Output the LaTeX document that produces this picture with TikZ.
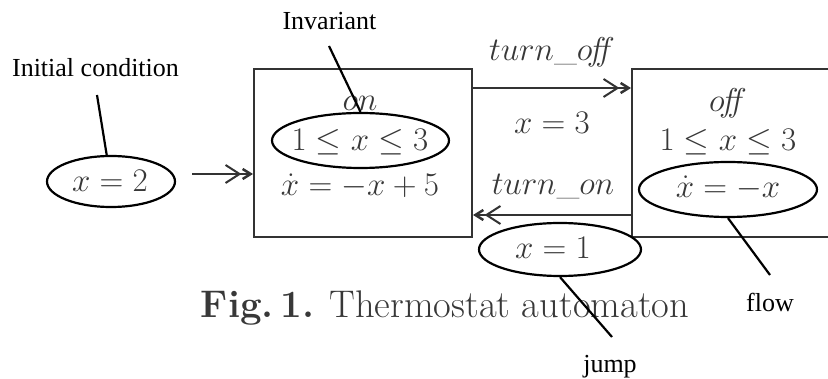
\RequirePackage{fix-cm}
\documentclass[tikz,border=0pt]{standalone}
\usepackage{fontspec}
\usetikzlibrary{shapes.geometric,arrows.meta}
\newfontfamily\timesfont{Liberation Serif}
\tikzset{
  scan/.style={text=black!78},
  mathtxt/.style={scan,font=\fontsize{33}{36}\selectfont,inner sep=0pt},
  statebox/.style={draw=black!80,line width=2pt,minimum width=218pt,minimum height=168pt,inner sep=0pt},
  trans/.style={draw=black!80,line width=2pt,-{Straight Barb[length=14pt,width=18pt,line width=2pt]Straight Barb[length=8pt,width=10pt,line width=2.5pt]}},
  callell/.style={ellipse,draw=black,line width=2.2pt,inner sep=0pt},
  callline/.style={draw=black,line width=2.2pt},
  lbl/.style={font=\timesfont\fontsize{26}{28}\selectfont,inner sep=0pt}
}
\begin{document}
\begin{tikzpicture}[x=1pt,y=-1pt]
\useasboundingbox (0,0) rectangle (828,379);
\clip (0,0) rectangle (828,379);
% states
\node[statebox] (on) at (363,153) {};
\node[statebox] (off) at (741,153) {};
% state contents
\node[mathtxt] (onname) at (360,103) {$on$};
\node[mathtxt] (oninv) at (360,142) {$1\leq x\leq 3$};
\node[mathtxt] (onflow) at (360,186) {$\dot{x}=-x+5$};
\node[mathtxt] (offname) at (728,103) {$o\!f\!\!f$};
\node[mathtxt] (offinv) at (728,142) {$1\leq x\leq 3$};
\node[mathtxt] (offflow) at (728,188) {$\dot{x}=-x$};
% initial
\node[mathtxt] (init) at (110,181) {$x=2$};
\coordinate (initstart) at (192,174);
\draw[trans] (initstart) -- (initstart -| on.west);
% transitions
\draw[trans] ([yshift=-20pt]on.north east) -- ([yshift=-20pt]off.north west);
\draw[trans] ([yshift=23pt]off.south west) -- ([yshift=23pt]on.south east);
\node[mathtxt] (toff) at (552,52) {$turn\_o\!f\!\!f$};
\node[mathtxt] (guard3) at (552,123) {$x=3$};
\node[mathtxt] (ton) at (553,187) {$turn\_on$};
\node[mathtxt] (guard1) at (553,248) {$x=1$};
% caption
\node[scan,anchor=base,inner sep=0pt,font=\fontsize{38.5}{41}\selectfont] (cap) at (445,318) {\textbf{Fig.\,1.} Thermostat automaton};
% callout ellipses
\node[callell,minimum width=128pt,minimum height=51pt] (x2e) at (111,181.5) {};
\node[callell,minimum width=177pt,minimum height=55pt] (invE) at (360.5,140.5) {};
\node[callell,minimum width=178pt,minimum height=55pt] (flowE) at (728,189.5) {};
\node[callell,minimum width=162pt,minimum height=53pt] (x1e) at (560,249.5) {};
% callout labels
\node[lbl,anchor=base] (linit) at (95.5,77) {Initial condition};
\node[lbl,anchor=base] (linv) at (329.5,30) {Invariant};
\node[lbl,anchor=base] (lflow) at (770,312) {flow};
\node[lbl,anchor=base] (ljump) at (610,373) {jump};
\coordinate (c1) at (97,95);
\coordinate (c2) at (329,46);
\coordinate (c3) at (770,275);
\coordinate (c4) at (612,337);
\draw[callline] (c1) -- (x2e);
\draw[callline] (c2) -- (invE.north);
\draw[callline] (flowE.south) -- (c3);
\draw[callline] (x1e.south) -- (c4);
\end{tikzpicture}
\end{document}
